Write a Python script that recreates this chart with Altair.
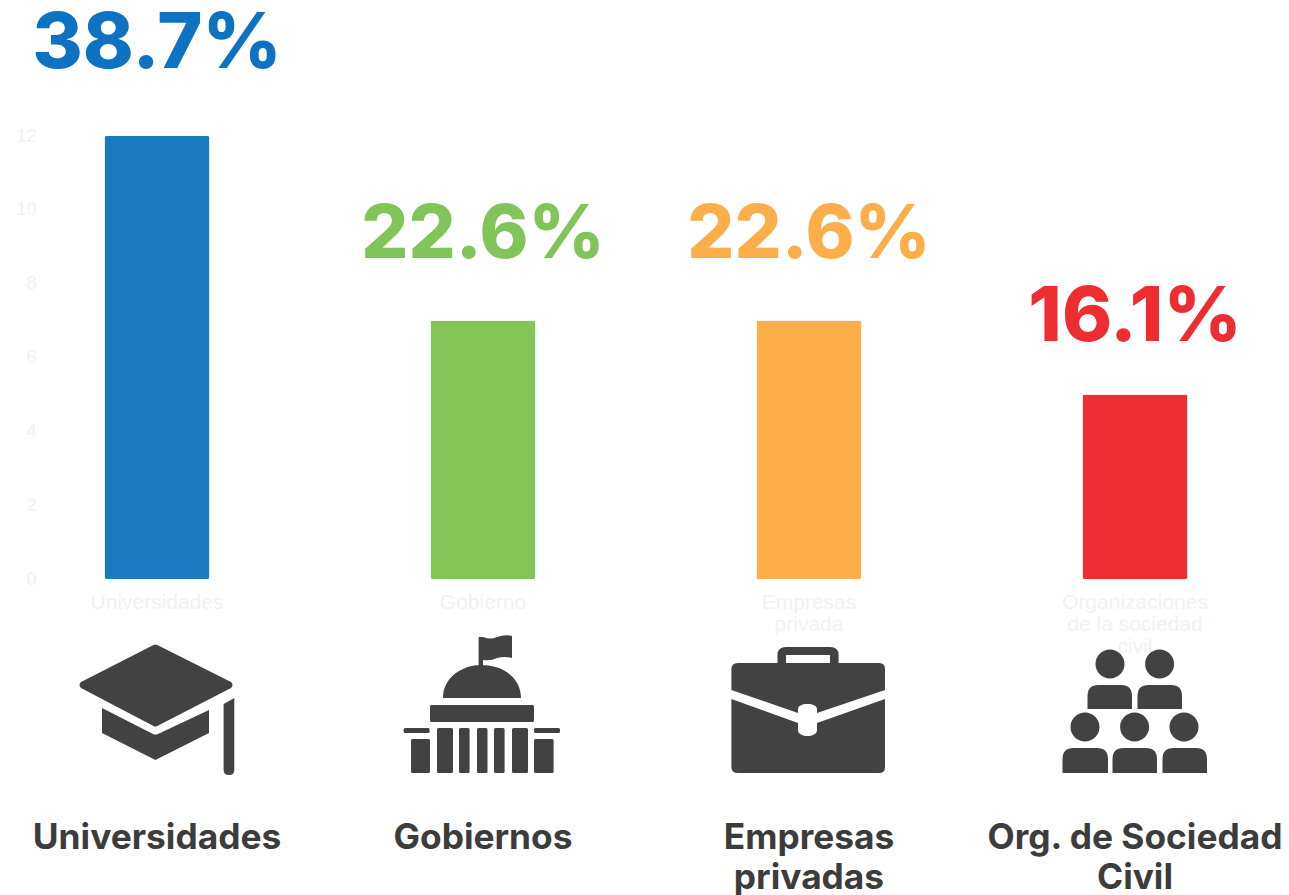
import altair as alt
import pandas as pd

# ---- data -------------------------------------------------------------
axis_names = ["Universidades", "Gobierno", "Empresas\nprivada", "Organizaciones\nde la sociedad\ncivil"]
values = [12, 7, 7, 5]
pct_labels = ["38.7%", "22.6%", "22.6%", "16.1%"]
card_labels = ["Universidades", "Gobiernos", "Empresas\nprivadas", "Org. de Sociedad\nCivil"]
bar_colors = ["#1a7abf", "#83c557", "#fcae4b", "#ee2e34"]
pct_colors = ["#0e72c2", "#80c45a", "#fbae4a", "#ee2d33"]
label_gaps = [68, 63, 63, 53]
label_sizes = [77, 74, 74, 76]

# ---- icon glyphs (drawn in pixel units around the symbol centre) -------
K = 0.5523


def rect(x0, y0, x1, y1, r=1.5):
    return (f"M{x0+r},{y0} L{x1-r},{y0} Q{x1},{y0} {x1},{y0+r} L{x1},{y1-r} Q{x1},{y1} {x1-r},{y1} "
            f"L{x0+r},{y1} Q{x0},{y1} {x0},{y1-r} L{x0},{y0+r} Q{x0},{y0} {x0+r},{y0} Z ")


def circle(cx, cy, r):
    c = K * r
    return (f"M{cx-r},{cy} C{cx-r},{cy-c} {cx-c},{cy-r} {cx},{cy-r} C{cx+c},{cy-r} {cx+r},{cy-c} {cx+r},{cy} "
            f"C{cx+r},{cy+c} {cx+c},{cy+r} {cx},{cy+r} C{cx-c},{cy+r} {cx-r},{cy+c} {cx-r},{cy} Z ")


def torso(x0, x1, y0, y1):
    r = 11
    return (f"M{x0},{y1} L{x0},{y0+r} Q{x0},{y0} {x0+r},{y0} L{x1-r},{y0} Q{x1},{y0} {x1},{y0+r} L{x1},{y1} Z ")


hat = (
    "M-3.5,-65 Q-1.6,-66 0.3,-65 L74,-28 Q77,-25 74,-22 L0.3,16 Q-1.6,17 -3.5,16 L-76,-22 Q-79,-25 -76,-28 Z "
    "M-55,-2 L-4,24 Q-1.6,25 1,24 L52,0 L52,23 L-1.6,50 L-55,23 Z "
    "M66.6,-6 L77.3,-12 L77.3,60 Q77.3,65 72,65 Q66.6,65 66.6,60 Z "
)

capitol = (
    rect(-4.4, -73, 0, -43, 0.5)
    + "M0,-73 Q8,-70 14,-73 Q22,-76 29,-74 L29,-52 Q22,-54 14,-52 Q8,-49 0,-50 Z "
    + "M-40,-12 C-40,-32 -22,-45 -1,-45 C20,-45 38,-32 38,-12 Z "
    + rect(-53, -5, 51, 12)
    + rect(-79.4, 18, -53.4, 23)
    + rect(51, 18, 77, 23)
    + rect(-46, 18, -30, 63)
    + rect(-24, 18, -13.4, 63)
    + rect(-6, 18, 4.5, 63)
    + rect(11, 18, 21.6, 63)
    + rect(29, 18, 45, 63)
    + rect(-72, 29, -53, 63)
    + rect(51, 29, 70.6, 63)
)

briefcase = (
    "M-31.5,-47 L-31.5,-55 Q-31.5,-63 -23,-63 L21,-63 Q29.6,-63 29.6,-55 L29.6,-47 L21,-47 L21,-55 L-23,-55 L-23,-47 Z "
    "M-77.6,-20 L-77.6,-41 Q-77.6,-47 -71,-47 L70,-47 Q76,-47 76,-41 L76,-20 L8,3 L8,-1 C8,-4 4,-6 -1.5,-6 C-7,-6 -11,-4 -11,-1 L-11,3 Z "
    "M-77.6,-11 L-11,13 L-11,20 C-11,24 -6,26 -1.5,26 C3,26 8,24 8,20 L8,13 L76,-11 L76,57 Q76,63 70,63 L-71,63 Q-77.6,63 -77.6,57 Z "
)

people = (
    circle(-25, -46, 14.5) + circle(24.6, -46, 14.5)
    + torso(-47.5, -3, -25, -1) + torso(2.5, 47, -25, -1)
    + circle(-50, 17, 14.5) + circle(-0.4, 17, 14.5) + circle(49, 17, 14.5)
    + torso(-72.5, -27, 38, 63) + torso(-22.5, 22, 38, 63) + torso(27.5, 72, 38, 63)
)
icons = [hat, capitol, briefcase, people]

df = pd.DataFrame({
    "cat": axis_names,
    "value": values,
    "pct": pct_labels,
    "card": card_labels,
})

CHART_W, CHART_H = 1273, 887
x_scale = alt.Scale(domain=axis_names, range=[-14, 1290], paddingInner=0, paddingOuter=0, round=False)
y_scale = alt.Scale(domain=[0, 12], range=[571, 128])
color_scale = alt.Scale(domain=axis_names, range=bar_colors)

FAINT = "#f1f1f1"
TEXT_FONT = "Inter"

x_axis = alt.Axis(offset=571 - CHART_H, domain=False, ticks=False, grid=False, labelAngle=0,
                  labelColor=FAINT, labelFont="Liberation Sans", labelFontSize=21,
                  labelLineHeight=22, labelPadding=12, labelLimit=400,
                  labelExpr="split(datum.label, '\\n')")
y_axis = alt.Axis(values=[0, 2, 4, 6, 8, 10, 12], offset=-28, domain=False, ticks=False, grid=False,
                  labelColor=FAINT, labelFont="Liberation Sans", labelFontSize=18, labelPadding=0)
x_enc = alt.X("cat:N", scale=x_scale, sort=axis_names, title=None, axis=x_axis)
y_enc = alt.Y("value:Q", scale=y_scale, title=None, axis=y_axis)

bars = alt.Chart(df).mark_bar(cornerRadius=2, width=105).encode(
    x=x_enc,
    y=y_enc,
    color=alt.Color("cat:N", scale=color_scale, legend=None),
)

layers = [bars]
for i, cat in enumerate(axis_names):
    layers.append(
        alt.Chart(df[df["cat"] == cat]).mark_text(
            font=TEXT_FONT, fontWeight=800, fontSize=label_sizes[i], baseline="alphabetic", align="center",
            dy=-label_gaps[i], color=pct_colors[i],
        ).encode(x=x_enc, y=y_enc, text="pct:N")
    )

icon_layer = alt.Chart(df).mark_point(filled=True, opacity=1, size=4, strokeWidth=0, color="#424242").encode(
    x=x_enc,
    y=alt.value(702),
    shape=alt.Shape("cat:N", scale=alt.Scale(domain=axis_names, range=icons), legend=None),
)

card_layer = alt.Chart(df).mark_text(
    font=TEXT_FONT, fontWeight=700, fontSize=35.3, lineBreak="\n", lineHeight=40,
    baseline="alphabetic", align="center", color="#3c3c3c",
).encode(
    x=x_enc,
    y=alt.value(841),
    text="card:N",
)

chart = alt.layer(*layers, icon_layer, card_layer).properties(
    width=CHART_W, height=CHART_H, padding=0, background="#ffffff",
    autosize=alt.AutoSizeParams(type="none"),
).configure_view(strokeWidth=0, stroke=None)

chart.save("out.html", embed_options={"renderer": "svg", "actions": False})
